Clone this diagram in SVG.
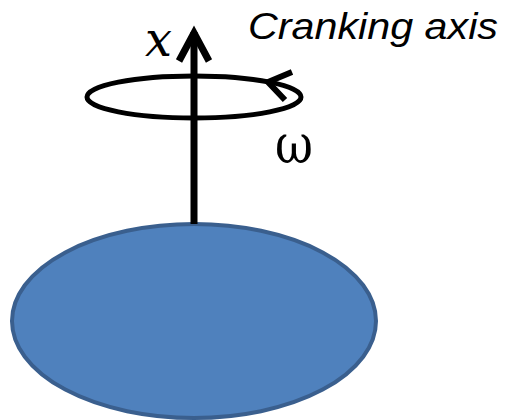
<svg xmlns="http://www.w3.org/2000/svg" width="508" height="420" viewBox="0 0 508 420">
<style>
.ln{fill:none;stroke:#000;stroke-width:5}
.lbl{fill:#000}
</style>
<rect width="508" height="420" fill="#fff"/>
<g id="body">
<ellipse cx="194" cy="321" rx="182" ry="97" fill="#4F81BD" stroke="#3A5F8E" stroke-width="4"/>
</g>
<g id="connectors">
<line x1="194" y1="224" x2="194" y2="32" stroke="#000" stroke-width="7"/>
<polyline points="179,61 194,33 209,61" fill="none" stroke="#000" stroke-width="7" stroke-linecap="butt" stroke-linejoin="miter"/>
<ellipse cx="194" cy="97" rx="107" ry="21" class="ln"/>
<polyline points="292,72 268,82 285,100" fill="none" stroke="#000" stroke-width="6"/>
</g>
<g id="labels">
<text x="145" y="56" font-family="DejaVu Serif, serif" font-style="italic" font-size="48" textLength="27" lengthAdjust="spacingAndGlyphs" class="lbl">x</text>
<text x="248" y="39" font-family="Liberation Sans, sans-serif" font-style="italic" font-size="37" textLength="250" lengthAdjust="spacingAndGlyphs" class="lbl">Cranking axis</text>
<text x="275" y="163" font-family="DejaVu Serif, serif" font-size="54" textLength="38" lengthAdjust="spacingAndGlyphs" class="lbl">ω</text>
</g>
</svg>
